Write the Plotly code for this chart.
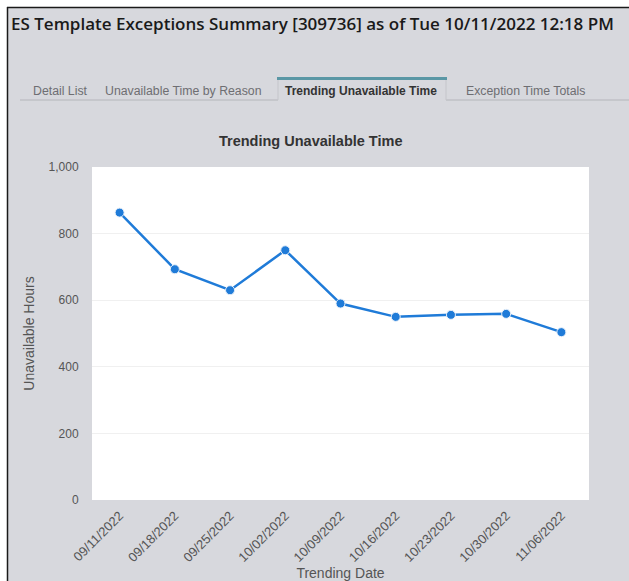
import plotly.graph_objects as go

# ---- data ----
dates = ["09/11/2022", "09/18/2022", "09/25/2022", "10/02/2022", "10/09/2022",
         "10/16/2022", "10/23/2022", "10/30/2022", "11/06/2022"]
hours = [863, 693, 630, 750, 590, 550, 556, 559, 504]
y_ticks = [0, 200, 400, 600, 800, 1000]
tab_labels = ["Detail List", "Unavailable Time by Reason",
              "Trending Unavailable Time", "Exception Time Totals"]
header_text = "ES Template Exceptions Summary [309736] as of Tue 10/11/2022 12:18 PM"
chart_title = "Trending Unavailable Time"

# ---- layout geometry (pixels) ----
W, H = 629, 581
L, R, T, B = 92, 589, 167, 500
BG = "#d7d8dd"


def px(x):
    return (x - L) / (R - L)


def py(y):
    return (B - y) / (B - T)


fig = go.Figure()
fig.add_trace(go.Scatter(
    x=dates, y=hours, mode="lines+markers",
    line=dict(color="#1f7bd8", width=2.5),
    marker=dict(size=9, color="#1f7bd8", line=dict(color="#e8f0fa", width=1)),
    hoverinfo="x+y", showlegend=False,
))

shapes = []
# white outer strips and black frame
shapes.append(dict(type="rect", xref="paper", yref="paper", x0=px(0), x1=px(W), y0=py(0), y1=py(7),
                   fillcolor="white", line=dict(width=0), layer="below"))
shapes.append(dict(type="rect", xref="paper", yref="paper", x0=px(0), x1=px(7), y0=py(0), y1=py(H),
                   fillcolor="white", line=dict(width=0), layer="below"))
shapes.append(dict(type="line", xref="paper", yref="paper", x0=px(7), x1=px(W), y0=py(7.5), y1=py(7.5),
                   line=dict(color="#1a1a1a", width=1.5)))
shapes.append(dict(type="line", xref="paper", yref="paper", x0=px(7.5), x1=px(7.5), y0=py(7), y1=py(H),
                   line=dict(color="#1a1a1a", width=1.5)))
# tab strip bottom line (open under active tab)
shapes.append(dict(type="line", xref="paper", yref="paper", x0=px(20), x1=px(278), y0=py(100), y1=py(100),
                   line=dict(color="#b4b5ba", width=1)))
shapes.append(dict(type="line", xref="paper", yref="paper", x0=px(446), x1=px(W), y0=py(100), y1=py(100),
                   line=dict(color="#b4b5ba", width=1)))
# active tab borders
shapes.append(dict(type="line", xref="paper", yref="paper", x0=px(278), x1=px(278), y0=py(79), y1=py(100),
                   line=dict(color="#c4c5ca", width=1)))
shapes.append(dict(type="line", xref="paper", yref="paper", x0=px(446), x1=px(446), y0=py(79), y1=py(100),
                   line=dict(color="#c4c5ca", width=1)))
shapes.append(dict(type="line", xref="paper", yref="paper", x0=px(277), x1=px(447), y0=py(78.5), y1=py(78.5),
                   line=dict(color="#5a97a5", width=3)))

annotations = []
annotations.append(dict(text=header_text, xref="paper", yref="paper", x=px(9), y=py(23),
                        xanchor="left", yanchor="middle", showarrow=False,
                        font=dict(family="Open Sans", size=17, color="#1a1a1a", weight=600)))
tab_centers = [60, 183, 361, 525]
for i, (lab, cx) in enumerate(zip(tab_labels, tab_centers)):
    active = lab == chart_title
    annotations.append(dict(text=lab, xref="paper", yref="paper", x=px(cx), y=py(91),
                            xanchor="center", yanchor="middle", showarrow=False,
                            font=dict(family="Liberation Sans", size=12 if active else 12.3,
                                      color="#333333" if active else "#6e6e72",
                                      weight=700 if active else 400)))
annotations.append(dict(text=chart_title, xref="paper", yref="paper", x=px(310), y=py(141),
                        xanchor="center", yanchor="middle", showarrow=False,
                        font=dict(family="Liberation Sans", size=14.5, color="#333333", weight=700)))

fig.update_layout(
    width=W, height=H,
    margin=dict(l=L, r=W - R, t=T, b=H - B, pad=0, autoexpand=False),
    paper_bgcolor=BG, plot_bgcolor="white",
    shapes=shapes, annotations=annotations,
    font=dict(family="Liberation Sans", color="#555555"),
    xaxis=dict(
        type="category", range=[-0.5, len(dates) - 0.5], automargin=False,
        tickangle=-45, tickfont=dict(size=13, color="#555555"),
        showgrid=False, zeroline=False, showline=False,
        ticks="outside", ticklen=2, tickcolor="rgba(0,0,0,0)",
        title=dict(text="Trending Date", font=dict(size=14, color="#555555"), standoff=12),
    ),
    yaxis=dict(
        range=[0, 1000], tickvals=y_ticks, tickformat=",d", automargin=False,
        tickfont=dict(size=12, color="#555555"),
        showgrid=True, gridcolor="#f0f0f0", gridwidth=1, zeroline=False, showline=False,
        ticks="outside", ticklen=10, tickcolor="rgba(0,0,0,0)",
        title=dict(text="Unavailable Hours", font=dict(size=14, color="#555555"), standoff=10),
    ),
)

fig.write_html(
    "out.html",
    config={"displayModeBar": False},
    post_script="document.body.style.margin='0';document.body.style.overflow='hidden';",
)
